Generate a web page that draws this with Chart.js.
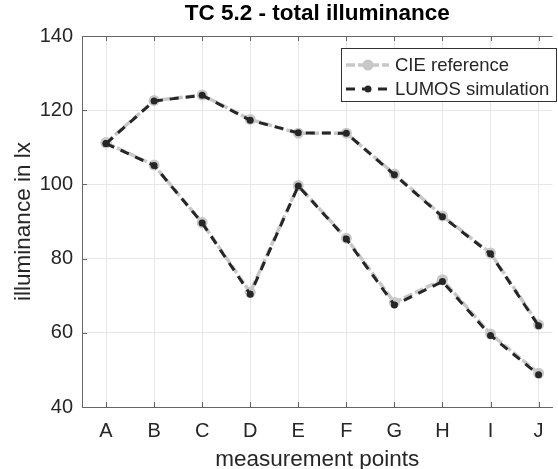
<!DOCTYPE html>
<html>
<head>
<meta charset="utf-8">
<script src="https://cdn.jsdelivr.net/npm/chart.js@4.4.0/dist/chart.umd.min.js"></script>
<style>
  body { margin: 0; background: #fff; }
  #wrap { width: 558px; height: 469px; position: relative; }
</style>
</head>
<body>
<div id="wrap"><canvas id="tcChart"></canvas></div>
<script>
const categories = ['A', 'B', 'C', 'D', 'E', 'F', 'G', 'H', 'I', 'J'];
const yTicks = [40, 60, 80, 100, 120, 140];
// two rows of measurement points
const cieRow1 = [111.2, 122.6, 124.1, 117.5, 113.8, 113.8, 102.8, 91.5, 81.5, 62.2];
const cieRow2 = [111.2, 105.2, 89.7, 70.9, 99.7, 85.5, 68.2, 74.3, 59.7, 49.1];
const lumosRow1 = [111.0, 122.5, 124.0, 117.3, 113.9, 113.8, 102.6, 91.3, 81.3, 61.9];
const lumosRow2 = [111.0, 105.1, 89.6, 70.4, 99.6, 85.3, 67.5, 73.8, 59.3, 48.7];

const FONT = "'Liberation Sans', Arial, sans-serif";
const TEXT = '#262626';
const CIE_COLOR = '#c8c8c8';
const LUMOS_COLOR = '#262626';

const toPts = arr => arr.map((v, i) => ({ x: i, y: v }));

const cieStyle = {
    borderColor: CIE_COLOR, backgroundColor: CIE_COLOR, borderWidth: 3.5,
    borderDash: [9, 3], pointRadius: 5.5, pointBorderWidth: 0, pointBackgroundColor: CIE_COLOR,
    fill: false, tension: 0, order: 2
};
const lumosStyle = {
    borderColor: LUMOS_COLOR, backgroundColor: LUMOS_COLOR, borderWidth: 3,
    borderDash: [9, 7], pointRadius: 3.5, pointBorderWidth: 0, pointBackgroundColor: LUMOS_COLOR,
    fill: false, tension: 0, order: 1
};

// inward ticks + top border, like the original figure
const frameTicks = {
    id: 'frameTicks',
    beforeDatasetsDraw(chart) {
        const { ctx, chartArea: a, scales } = chart;
        ctx.save();
        ctx.strokeStyle = '#666';
        ctx.lineWidth = 1;
        ctx.beginPath();
        ctx.moveTo(a.left, a.top + 0.5);
        ctx.lineTo(a.right, a.top + 0.5);
        categories.forEach((c, i) => {
            const x = Math.round(scales.x.getPixelForValue(i)) + 0.5;
            ctx.moveTo(x, a.bottom); ctx.lineTo(x, a.bottom - 5);
            ctx.moveTo(x, a.top); ctx.lineTo(x, a.top + 5);
        });
        yTicks.forEach(v => {
            const y = Math.round(scales.y.getPixelForValue(v)) + 0.5;
            ctx.moveTo(a.left, y); ctx.lineTo(a.left + 5, y);
        });
        ctx.stroke();
        ctx.restore();
    },
    afterDraw(chart) {
        const { ctx } = chart;
        const bx = 341.5, by = 48.5, bw = 215, bh = 53;
        ctx.save();
        ctx.fillStyle = '#fff';
        ctx.fillRect(bx, by, bw, bh);
        ctx.strokeStyle = '#333';
        ctx.lineWidth = 1;
        ctx.strokeRect(bx, by, bw, bh);
        const items = [
            { label: 'CIE reference', s: cieStyle, y: 65 },
            { label: 'LUMOS simulation', s: lumosStyle, y: 89 }
        ];
        items.forEach(it => {
            ctx.strokeStyle = it.s.borderColor;
            ctx.lineWidth = it.s.borderWidth;
            ctx.setLineDash(it.s.borderDash);
            ctx.beginPath();
            ctx.moveTo(346, it.y); ctx.lineTo(389, it.y);
            ctx.stroke();
            ctx.setLineDash([]);
            ctx.fillStyle = it.s.pointBackgroundColor;
            ctx.beginPath();
            ctx.arc(368, it.y, it.s.pointRadius, 0, Math.PI * 2);
            ctx.fill();
            ctx.fillStyle = TEXT;
            ctx.font = '18.5px ' + FONT;
            ctx.textBaseline = 'middle';
            ctx.fillText(it.label, 395, it.y + 1);
        });
        ctx.restore();
    }
};

new Chart(document.getElementById('tcChart'), {
    type: 'line',
    data: {
        datasets: [
            { label: 'LUMOS simulation', data: toPts(lumosRow1), ...lumosStyle },
            { label: 'LUMOS simulation', data: toPts(lumosRow2), ...lumosStyle },
            { label: 'CIE reference', data: toPts(cieRow1), ...cieStyle },
            { label: 'CIE reference', data: toPts(cieRow2), ...cieStyle }
        ]
    },
    options: {
        responsive: true,
        maintainAspectRatio: false,
        animation: false,
        layout: { padding: 0 },
        plugins: {
            legend: { display: false },
            tooltip: { enabled: false },
            title: {
                display: true,
                text: 'TC 5.2 - total illuminance',
                color: '#000',
                fullSize: false,
                font: { family: FONT, size: 22.5, weight: 'bold' },
                padding: { top: 0, bottom: 9 }
            }
        },
        scales: {
            x: {
                type: 'linear',
                min: -0.5,
                max: 9.29,
                afterFit(scale) { scale.height = 62; },
                afterBuildTicks(scale) { scale.ticks = categories.map((c, i) => ({ value: i })); },
                grid: { color: '#e6e6e6', drawTicks: false },
                border: { display: true, color: '#666' },
                ticks: {
                    color: TEXT,
                    font: { family: FONT, size: 20 },
                    padding: 12,
                    maxRotation: 0,
                    autoSkip: false,
                    callback: v => categories[v]
                },
                title: {
                    display: true,
                    text: 'measurement points',
                    color: TEXT,
                    font: { family: FONT, size: 22.5, lineHeight: 0.85 },
                    padding: { top: 0, bottom: 0 }
                }
            },
            y: {
                min: 40,
                max: 140,
                afterFit(scale) { scale.width = 82; },
                afterBuildTicks(scale) { scale.ticks = yTicks.map(v => ({ value: v })); },
                grid: { color: '#e6e6e6', drawTicks: false },
                border: { display: true, color: '#666' },
                ticks: {
                    color: TEXT,
                    font: { family: FONT, size: 20 },
                    padding: 9
                },
                title: {
                    display: true,
                    text: 'illuminance in lx',
                    color: TEXT,
                    font: { family: FONT, size: 22.5 },
                    padding: { top: 10, bottom: 0 }
                }
            }
        }
    },
    plugins: [frameTicks]
});
</script>
</body>
</html>
